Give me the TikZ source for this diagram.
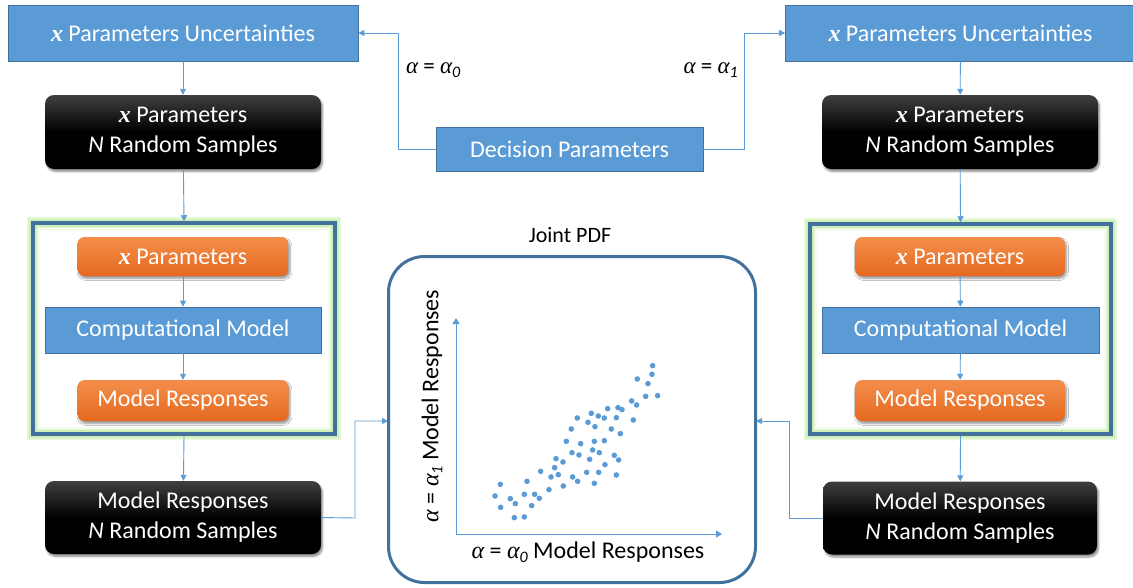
\documentclass[tikz,border=0pt]{standalone}
\usepackage{fontspec}
\setmainfont{Carlito}
\newfontfamily\serifit{Liberation Serif}
\usetikzlibrary{arrows.meta,shadows.blur}
\definecolor{boxblue}{HTML}{5B9BD5}
\definecolor{edgeblue}{HTML}{41719C}
\definecolor{linkblue}{HTML}{5B9BD5}
\definecolor{orangetop}{HTML}{F38E4A}
\definecolor{orangebot}{HTML}{E5691F}
\definecolor{glowgreen}{HTML}{C9EEB0}
\newcommand{\xvar}{{\serifit\bfseries\itshape x}}
\newcommand{\alf}{{\serifit\itshape α}}
\newcommand{\subi}[1]{\raisebox{-0.35ex}{\fontsize{16}{16}\selectfont\itshape #1}}
\tikzset{
  base/.style={inner sep=0pt, align=center, text=white, font=\fontsize{24}{30}\selectfont},
  bluebox/.style={base, fill=boxblue, draw=edgeblue, line width=0.6pt},
  blackbox/.style={base, rounded corners=9pt, top color=black!75, bottom color=black,
     middle color=black, blur shadow={shadow xshift=1.5pt, shadow yshift=-2.5pt, shadow blur steps=5, shadow opacity=45}},
  orangebox/.style={base, rounded corners=7pt, top color=orangetop, bottom color=orangebot,
     blur shadow={shadow xshift=1.5pt, shadow yshift=-2.5pt, shadow blur steps=5, shadow opacity=40}},
  frame/.style={draw=edgeblue, line width=3.5pt, inner sep=0pt},
  link/.style={draw=linkblue, line width=0.9pt, -{Triangle[width=6pt,length=6pt]}},
  lbl/.style={inner sep=0pt, text=black, font=\fontsize{24}{28}\selectfont},
  dot/.style={fill=boxblue, draw=none},
}
\begin{document}
\begin{tikzpicture}[x=1pt, y=-1pt]
\useasboundingbox (0,0) rectangle (1133,587);
\clip (0,0) rectangle (1133,587);

% ---- left branch ----
\node[bluebox, minimum width=350pt, minimum height=56pt] (lunc) at (183,33) {\xvar{} Parameters Uncertainties};
\node[blackbox, minimum width=276pt, minimum height=74pt] (lsam) at (183,132) {\xvar{} Parameters\\ \textit{N} Random Samples};
% framed model group with a soft green glow
\fill[glowgreen!50] (27,217) rectangle (341,440);
\fill[glowgreen!20] (38,228) rectangle (330,429);
\fill[white] (40,230) rectangle (328,427);
\node[frame, draw=glowgreen, line width=8pt, minimum width=302pt, minimum height=211pt, opacity=0.8] at (184,328.5) {};
\node[frame, minimum width=302pt, minimum height=211pt] (lgrp) at (184,328.5) {};
\node[orangebox, minimum width=211pt, minimum height=39pt] (lxp) at (183,256.5) {\xvar{} Parameters};
\node[bluebox, minimum width=276pt, minimum height=46pt] (lcm) at (183,330) {Computational Model};
\node[orangebox, minimum width=211pt, minimum height=41pt] (lmr) at (183,400.5) {Model Responses};
\node[blackbox, minimum width=276pt, minimum height=73pt] (lres) at (183,517.5) {Model Responses\\ \textit{N} Random Samples};

% ---- right branch ----
\node[bluebox, minimum width=350pt, minimum height=56pt] (runc) at (960.5,33) {\xvar{} Parameters Uncertainties};
\node[blackbox, minimum width=276pt, minimum height=74pt] (rsam) at (960,132) {\xvar{} Parameters\\ \textit{N} Random Samples};
\fill[glowgreen!50] (804,218) rectangle (1117,440);
\fill[glowgreen!20] (815,229) rectangle (1106,429);
\fill[white] (817,231) rectangle (1104,427);
\node[frame, draw=glowgreen, line width=8pt, minimum width=301pt, minimum height=210pt, opacity=0.8] at (960.5,329) {};
\node[frame, minimum width=301pt, minimum height=210pt] (rgrp) at (960.5,329) {};
\node[orangebox, minimum width=210pt, minimum height=39pt] (rxp) at (960,256.5) {\xvar{} Parameters};
\node[bluebox, minimum width=277pt, minimum height=46pt] (rcm) at (960.5,330) {Computational Model};
\node[orangebox, minimum width=210pt, minimum height=41pt] (rmr) at (960,400.5) {Model Responses};
\node[blackbox, minimum width=274pt, minimum height=73pt] (rres) at (960,518) {Model Responses\\ \textit{N} Random Samples};

% ---- decision parameters ----
\node[bluebox, minimum width=267pt, minimum height=44pt] (dec) at (569.5,149) {Decision Parameters};
\node[lbl, anchor=west, font=\fontsize{23}{26}\selectfont] (a0) at (406,70) {\alf{} = \alf\subi{0}};
\node[lbl, anchor=east, font=\fontsize{23}{26}\selectfont] (a1) at (738,70) {\alf{} = \alf\subi{1}};

% ---- joint PDF panel ----
\node[draw=edgeblue, line width=3pt, rounded corners=36pt, minimum width=367pt, minimum height=326pt, inner sep=0pt] (pdf) at (572,419.5) {};
\node[lbl, font=\fontsize{22}{26}\selectfont] (title) at (570,235) {Joint PDF};
\coordinate (org) at (456,534);
\coordinate (ytip) at (456,318);
\coordinate (xtip) at (722,534);
\draw[link, -{Triangle[width=7pt,length=6pt]}] (org) -- (ytip);
\draw[link, -{Triangle[width=7pt,length=6pt]}] (org) -- (xtip);
\node[lbl, rotate=90] (ylab) at (432,406) {\alf{} = \alf\subi{1} Model Responses};
\node[lbl] (xlab) at (588,552) {\alf{} = \alf\subi{0} Model Responses};

\begin{scope}[shift={(380,220)}, x=0.3333pt, y=-0.3333pt]
\foreach \px/\py in {818/437,772/477,816/463,804/491,797/529,833/527,755/543,770/555,760/600,
  683/566,714/563,726/569,634/580,655/588,673/594,709/593,592/594,624/607,645/620,574/627,
  694/627,721/641,559/664,602/671,643/664,673/662,576/698,597/705,638/690,658/698,703/706,
  716/720,629/718,528/716,549/726,524/743,675/734,482/754,535/764,513/771,620/757,656/757,
  709/765,578/771,593/784,643/790,550/798,507/809,441/784,361/793,433/823,464/823,478/835,
  345/828,391/836,406/851,455/857,362/862,403/893,433/891}
  \fill[dot] (\px,\py) circle[radius=2.8pt];
\end{scope}

% ---- connectors ----
\draw[link] (lunc) -- (lsam);
\draw[link] (lsam) -- (lgrp.north);
\draw[link] (lxp) -- (lcm);
\draw[link] (lcm) -- (lmr);
\draw[link] (lgrp.south) -- (lres);
\draw[link] (runc) -- (rsam);
\draw[link] (rsam) -- (rgrp.north);
\draw[link] (rxp) -- (rcm);
\draw[link] (rcm) -- (rmr);
\draw[link] (rgrp.south) -- (rres);

\coordinate (dl) at (398,149);
\coordinate (dr) at (744,149);
\draw[link] (dec.west) -- (dl) |- (lunc.east);
\draw[link] (dec.east) -- (dr) |- (runc.west);

\coordinate (ml) at (355,518);
\coordinate (mr) at (789,518);
\coordinate (pin) at (388,421);
\coordinate (pinr) at (756,421);
\draw[link] (lres.east) -- (ml) |- (pin);
\draw[link] (rres.west) -- (mr) |- (pinr);
\end{tikzpicture}
\end{document}
